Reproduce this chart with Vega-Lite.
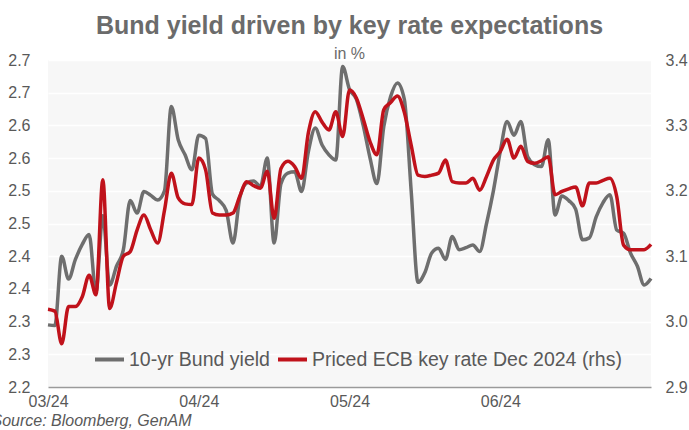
{
  "$schema": "https://vega.github.io/schema/vega-lite/v6.json",
  "autosize": {"type": "none"},
  "padding": {"left": 48, "top": 60, "right": 38, "bottom": 43},
  "width": 603,
  "height": 327,
  "title": {
    "text": "Bund yield driven by key rate expectations",
    "subtitle": "in %",
    "font": "Liberation Sans",
    "subtitleFont": "Liberation Sans",
    "fontSize": 25,
    "fontWeight": "bold",
    "color": "#6b6b6b",
    "subtitleFontSize": 16,
    "subtitleColor": "#6b6b6b",
    "anchor": "middle",
    "offset": -10,
    "subtitlePadding": 7
  },
  "data": {
    "values": [
      {"date": "2024-03-01", "bund": 2.295, "ecb": 3.019},
      {"date": "2024-03-04", "bund": 2.294, "ecb": 3.016},
      {"date": "2024-03-05", "bund": 2.400, "ecb": 2.966},
      {"date": "2024-03-06", "bund": 2.365, "ecb": 3.023},
      {"date": "2024-03-07", "bund": 2.395, "ecb": 3.023},
      {"date": "2024-03-08", "bund": 2.418, "ecb": 3.038},
      {"date": "2024-03-11", "bund": 2.433, "ecb": 3.071},
      {"date": "2024-03-12", "bund": 2.345, "ecb": 3.041},
      {"date": "2024-03-13", "bund": 2.462, "ecb": 3.217},
      {"date": "2024-03-14", "bund": 2.356, "ecb": 3.020},
      {"date": "2024-03-15", "bund": 2.385, "ecb": 3.060},
      {"date": "2024-03-18", "bund": 2.410, "ecb": 3.100},
      {"date": "2024-03-19", "bund": 2.485, "ecb": 3.107},
      {"date": "2024-03-20", "bund": 2.466, "ecb": 3.140},
      {"date": "2024-03-21", "bund": 2.499, "ecb": 3.163},
      {"date": "2024-03-22", "bund": 2.493, "ecb": 3.140},
      {"date": "2024-03-25", "bund": 2.486, "ecb": 3.120},
      {"date": "2024-03-26", "bund": 2.500, "ecb": 3.170},
      {"date": "2024-03-27", "bund": 2.629, "ecb": 3.227},
      {"date": "2024-03-28", "bund": 2.578, "ecb": 3.189},
      {"date": "2024-03-29", "bund": 2.555, "ecb": 3.180},
      {"date": "2024-04-01", "bund": 2.532, "ecb": 3.179},
      {"date": "2024-04-02", "bund": 2.585, "ecb": 3.250},
      {"date": "2024-04-03", "bund": 2.580, "ecb": 3.232},
      {"date": "2024-04-04", "bund": 2.495, "ecb": 3.166},
      {"date": "2024-04-05", "bund": 2.485, "ecb": 3.163},
      {"date": "2024-04-08", "bund": 2.470, "ecb": 3.163},
      {"date": "2024-04-09", "bund": 2.420, "ecb": 3.166},
      {"date": "2024-04-10", "bund": 2.490, "ecb": 3.192},
      {"date": "2024-04-11", "bund": 2.512, "ecb": 3.214},
      {"date": "2024-04-12", "bund": 2.515, "ecb": 3.208},
      {"date": "2024-04-15", "bund": 2.507, "ecb": 3.204},
      {"date": "2024-04-16", "bund": 2.550, "ecb": 3.230},
      {"date": "2024-04-17", "bund": 2.420, "ecb": 3.158},
      {"date": "2024-04-18", "bund": 2.511, "ecb": 3.234},
      {"date": "2024-04-19", "bund": 2.527, "ecb": 3.245},
      {"date": "2024-04-22", "bund": 2.529, "ecb": 3.237},
      {"date": "2024-04-23", "bund": 2.499, "ecb": 3.219},
      {"date": "2024-04-24", "bund": 2.560, "ecb": 3.289},
      {"date": "2024-04-25", "bund": 2.596, "ecb": 3.321},
      {"date": "2024-04-26", "bund": 2.570, "ecb": 3.305},
      {"date": "2024-04-29", "bund": 2.555, "ecb": 3.293},
      {"date": "2024-04-30", "bund": 2.547, "ecb": 3.321},
      {"date": "2024-05-01", "bund": 2.690, "ecb": 3.283},
      {"date": "2024-05-02", "bund": 2.655, "ecb": 3.354},
      {"date": "2024-05-03", "bund": 2.640, "ecb": 3.342},
      {"date": "2024-05-06", "bund": 2.600, "ecb": 3.310},
      {"date": "2024-05-07", "bund": 2.550, "ecb": 3.275},
      {"date": "2024-05-08", "bund": 2.511, "ecb": 3.255},
      {"date": "2024-05-09", "bund": 2.598, "ecb": 3.324},
      {"date": "2024-05-10", "bund": 2.644, "ecb": 3.335},
      {"date": "2024-05-13", "bund": 2.665, "ecb": 3.345},
      {"date": "2024-05-14", "bund": 2.640, "ecb": 3.320},
      {"date": "2024-05-15", "bund": 2.500, "ecb": 3.270},
      {"date": "2024-05-16", "bund": 2.360, "ecb": 3.224},
      {"date": "2024-05-17", "bund": 2.375, "ecb": 3.222},
      {"date": "2024-05-20", "bund": 2.405, "ecb": 3.224},
      {"date": "2024-05-21", "bund": 2.412, "ecb": 3.227},
      {"date": "2024-05-22", "bund": 2.395, "ecb": 3.247},
      {"date": "2024-05-23", "bund": 2.430, "ecb": 3.214},
      {"date": "2024-05-24", "bund": 2.410, "ecb": 3.212},
      {"date": "2024-05-27", "bund": 2.413, "ecb": 3.212},
      {"date": "2024-05-28", "bund": 2.417, "ecb": 3.219},
      {"date": "2024-05-29", "bund": 2.407, "ecb": 3.201},
      {"date": "2024-05-30", "bund": 2.450, "ecb": 3.222},
      {"date": "2024-05-31", "bund": 2.500, "ecb": 3.247},
      {"date": "2024-06-03", "bund": 2.560, "ecb": 3.260},
      {"date": "2024-06-04", "bund": 2.606, "ecb": 3.279},
      {"date": "2024-06-05", "bund": 2.585, "ecb": 3.250},
      {"date": "2024-06-06", "bund": 2.606, "ecb": 3.268},
      {"date": "2024-06-07", "bund": 2.552, "ecb": 3.245},
      {"date": "2024-06-10", "bund": 2.540, "ecb": 3.242},
      {"date": "2024-06-11", "bund": 2.537, "ecb": 3.246},
      {"date": "2024-06-12", "bund": 2.578, "ecb": 3.252},
      {"date": "2024-06-13", "bund": 2.463, "ecb": 3.194},
      {"date": "2024-06-14", "bund": 2.492, "ecb": 3.199},
      {"date": "2024-06-17", "bund": 2.485, "ecb": 3.203},
      {"date": "2024-06-18", "bund": 2.472, "ecb": 3.206},
      {"date": "2024-06-19", "bund": 2.425, "ecb": 3.177},
      {"date": "2024-06-20", "bund": 2.428, "ecb": 3.212},
      {"date": "2024-06-21", "bund": 2.460, "ecb": 3.212},
      {"date": "2024-06-24", "bund": 2.482, "ecb": 3.216},
      {"date": "2024-06-25", "bund": 2.494, "ecb": 3.219},
      {"date": "2024-06-26", "bund": 2.440, "ecb": 3.191},
      {"date": "2024-06-27", "bund": 2.435, "ecb": 3.117},
      {"date": "2024-06-28", "bund": 2.405, "ecb": 3.110},
      {"date": "2024-07-01", "bund": 2.385, "ecb": 3.110},
      {"date": "2024-07-02", "bund": 2.356, "ecb": 3.110},
      {"date": "2024-07-03", "bund": 2.366, "ecb": 3.118}
    ]
  },
  "encoding": {
    "x": {
      "field": "date",
      "type": "ordinal",
      "scale": {"type": "point", "padding": 0},
      "axis": {
        "values": ["2024-03-01", "2024-04-02", "2024-05-02", "2024-06-03"],
        "labelExpr": "slice(datum.value, 5, 7) + '/' + slice(datum.value, 2, 4)",
        "labelAngle": 0,
        "labelAlign": "center",
        "labelPadding": 6,
        "labelFontSize": 16,
        "labelColor": "#595959",
        "ticks": false,
        "tickSize": 0,
        "domain": true,
        "domainColor": "#9a9a9a",
        "domainWidth": 1.5,
        "grid": false,
        "zindex": 1,
        "title": "Source: Bloomberg, GenAM",
        "titleFont": "Liberation Sans",
        "titleFontSize": 16,
        "titleFontStyle": "italic",
        "titleFontWeight": "normal",
        "titleColor": "#595959",
        "titleAlign": "left",
        "titleBaseline": "alphabetic",
        "titleX": -57,
        "titleY": 38
      }
    }
  },
  "layer": [
    {
      "mark": {"type": "line", "strokeWidth": 3.5, "interpolate": "monotone"},
      "encoding": {
        "y": {
          "field": "bund",
          "type": "quantitative",
          "scale": {"domain": [2.2, 2.7], "zero": false, "nice": false},
          "axis": {
            "orient": "left",
            "title": null,
            "values": [2.2, 2.25, 2.3, 2.35, 2.4, 2.45, 2.5, 2.55, 2.6, 2.65, 2.7],
            "labelExpr": "format(datum.value + 0.0001, '.1f')",
            "labelFontSize": 16,
            "labelColor": "#595959",
            "labelPadding": 18,
            "ticks": false,
            "tickSize": 0,
            "domain": false,
            "grid": true,
            "gridColor": "#ffffff",
            "gridWidth": 1.5
          }
        },
        "color": {
          "datum": "10-yr Bund yield",
          "type": "nominal",
          "scale": {
            "domain": ["10-yr Bund yield", "Priced ECB key rate Dec 2024 (rhs)"],
            "range": ["#6e6e6e", "#c0121b"]
          },
          "legend": {
            "title": null,
            "orient": "none",
            "direction": "horizontal",
            "legendX": 45,
            "legendY": 283,
            "symbolType": "stroke",
            "symbolSize": 841,
            "symbolStrokeWidth": 4,
            "labelFont": "Liberation Sans",
            "labelFontSize": 19.5,
            "labelColor": "#595959",
            "labelLimit": 400,
            "labelOffset": 3,
            "columnPadding": 0,
            "padding": 0
          }
        }
      }
    },
    {
      "mark": {"type": "line", "strokeWidth": 3.5, "interpolate": "monotone"},
      "encoding": {
        "y": {
          "field": "ecb",
          "type": "quantitative",
          "scale": {"domain": [2.9, 3.4], "zero": false, "nice": false},
          "axis": {
            "orient": "right",
            "title": null,
            "values": [2.9, 3.0, 3.1, 3.2, 3.3, 3.4],
            "format": ".1f",
            "labelFontSize": 16,
            "labelColor": "#595959",
            "labelPadding": 14,
            "ticks": false,
            "tickSize": 0,
            "domain": false,
            "grid": false
          }
        },
        "color": {"datum": "Priced ECB key rate Dec 2024 (rhs)", "type": "nominal"}
      }
    }
  ],
  "resolve": {"scale": {"y": "independent"}},
  "config": {
    "font": "Liberation Sans",
    "view": {"fill": "#f7f7f7", "stroke": null}
  }
}
